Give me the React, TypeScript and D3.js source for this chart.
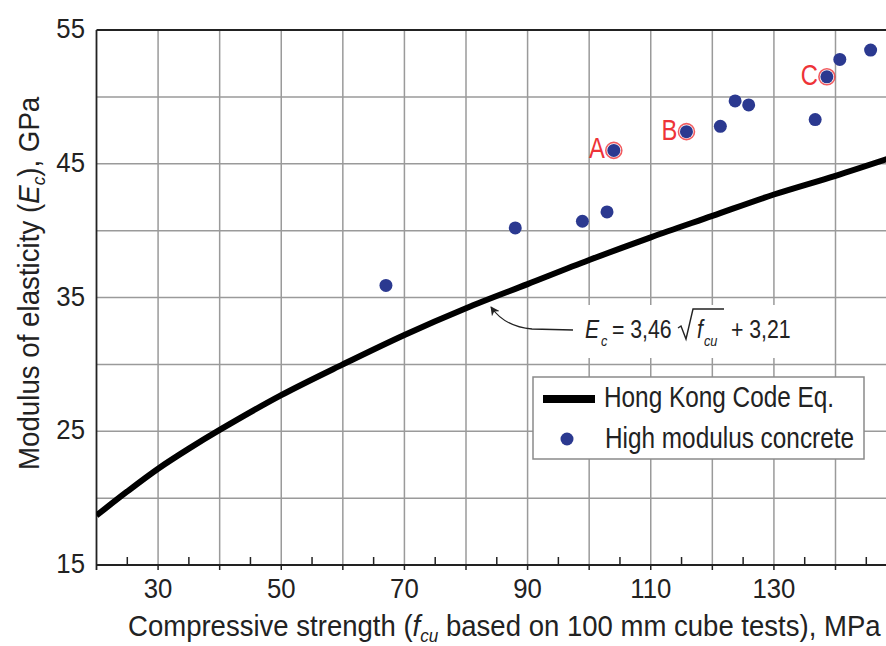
import React from "react";
import * as d3 from "d3";

// Hong Kong Code equation curve
const curveF = [20, 25, 30, 35, 40, 50, 60, 70, 80, 90, 100, 110, 120, 130, 140, 150];
const curveE = [18.7, 20.5, 22.2, 23.7, 25.1, 27.7, 30.0, 32.2, 34.2, 36.0, 37.8, 39.5, 41.1, 42.7, 44.1, 45.6];

// High modulus concrete points
const ptF = [67.0, 88.0, 98.9, 102.9, 104.0, 115.8, 121.3, 123.7, 125.9, 136.7, 138.6, 140.7, 145.7];
const ptE = [35.9, 40.2, 40.7, 41.4, 46.0, 47.4, 47.8, 49.7, 49.4, 48.3, 51.5, 52.8, 53.5];
const ptLabel = ["", "", "", "", "A", "B", "", "", "", "", "C", "", ""];

const xTickLabels = [30, 50, 70, 90, 110, 130];
const yTickLabels = [15, 25, 35, 45, 55];
const xGrid = [30, 40, 50, 60, 70, 80, 90, 100, 110, 120, 130, 140];
const xMinor = [25, 35, 45, 55, 65, 75, 85, 95, 105, 115, 125, 135, 145];
const yGrid = [20, 25, 30, 35, 40, 45, 50];

const FONT = "'Liberation Sans', Arial, sans-serif";

function ST(props: any) {
  const { x, y, s = 0.85, anchor = "start", size = 28, fill = "#222", italic = false, rotate = 0, children } = props;
  return (
    <text
      transform={`translate(${x},${y})${rotate ? ` rotate(${rotate})` : ""} scale(${s},1)`}
      textAnchor={anchor}
      fontSize={size}
      fill={fill}
      fontStyle={italic ? "italic" : "normal"}
    >
      {children}
    </text>
  );
}

export default function App() {
  const W = 886, H = 646;
  const L = 96.5, R = 886, T = 30, B = 565;
  const x = d3.scaleLinear().domain([20, 148.2]).range([L, R]);
  const y = d3.scaleLinear().domain([15, 55]).range([B, T]);
  const line = d3
    .line<number>()
    .x((_, i) => x(curveF[i]))
    .y((_, i) => y(curveE[i]))
    .curve(d3.curveCatmullRom);
  const blue = "#2b3990";
  const red = "#ee3338";
  const grid = "#9a9a9a";

  return (
    <svg
      width={W}
      height={H}
      style={{ position: "absolute", left: 0, top: 0, background: "#fff" }}
      fontFamily={FONT}
    >
      <defs>
        <clipPath id="plot">
          <rect x={L} y={T} width={R - L} height={B - T} />
        </clipPath>
        <marker id="arr" viewBox="0 0 10 10" refX="9" refY="5" markerWidth="7" markerHeight="7" orient="auto-start-reverse">
          <path d="M0,0 L10,5 L0,10 L3,5 z" fill="#222" />
        </marker>
      </defs>
      <rect x={0} y={0} width={W} height={H} fill="#fff" />
      {/* grid */}
      {xGrid.map((v) => (
        <line key={"gx" + v} x1={x(v)} x2={x(v)} y1={T} y2={B} stroke={grid} strokeWidth={1.5} />
      ))}
      {yGrid.map((v) => (
        <line key={"gy" + v} x1={L} x2={R} y1={y(v)} y2={y(v)} stroke={grid} strokeWidth={1.5} />
      ))}
      {/* axes */}
      <line x1={L} x2={R} y1={T} y2={T} stroke="#222" strokeWidth={1.8} />
      <line x1={L} x2={L} y1={T} y2={B + 5} stroke="#222" strokeWidth={1.8} />
      <line x1={L} x2={R} y1={B} y2={B} stroke="#222" strokeWidth={2} />
      {xGrid.map((v) => (
        <line key={"tk" + v} x1={x(v)} x2={x(v)} y1={B} y2={B + 5} stroke="#222" strokeWidth={1.5} />
      ))}
      {xMinor.map((v) => (
        <line key={"mk" + v} x1={x(v)} x2={x(v)} y1={B} y2={B - 8} stroke="#222" strokeWidth={1.5} />
      ))}
      {/* tick labels */}
      {xTickLabels.map((v) => (
        <ST key={"xl" + v} x={x(v)} y={598} anchor="middle" size={28} s={0.92}>
          {v}
        </ST>
      ))}
      {yTickLabels.map((v) => (
        <ST key={"yl" + v} x={85} y={y(v) + 8} anchor="end" size={28} s={0.92}>
          {v}
        </ST>
      ))}
      {/* axis titles */}
      <ST x={128} y={636} size={29} s={0.95}>
        Compressive strength (<tspan fontStyle="italic">f</tspan>
        <tspan fontStyle="italic" fontSize={18} dy={6}>cu</tspan>
        <tspan dy={-6}> based on 100 mm cube tests), MPa</tspan>
      </ST>
      <ST x={39} y={470} rotate={-90} size={29} s={0.955}>
        Modulus of elasticity (<tspan fontStyle="italic">E</tspan>
        <tspan fontStyle="italic" fontSize={18} dy={6}>c</tspan>
        <tspan dy={-6}>), GPa</tspan>
      </ST>
      {/* curve */}
      <path d={line(curveF) || ""} fill="none" stroke="#000" strokeWidth={6} clipPath="url(#plot)" />
      {/* annotation */}
      <rect x={575} y={305} width={228} height={53} fill="#fff" />
      <path d="M573,330 L532,329 Q505,327 491,307" fill="none" stroke="#222" strokeWidth={1.3} markerEnd="url(#arr)" />
      <g fill="#222">
        <ST x={585} y={338} size={25} s={0.85} italic>E</ST>
        <ST x={601} y={346} size={15} s={0.85} italic>c</ST>
        <ST x={612} y={338} size={25} s={0.85}>= 3,46</ST>
        <path d="M678,328 L681,326 L686,339 L693,309 L724,309" fill="none" stroke="#222" strokeWidth={1.4} />
        <ST x={697} y={338} size={25} s={0.85} italic>f</ST>
        <ST x={704} y={346} size={15} s={0.85} italic>cu</ST>
        <ST x={731} y={338} size={25} s={0.85}>+ 3,21</ST>
      </g>
      {/* points */}
      {ptF.map((f, i) => (
        <g key={"p" + i}>
          {ptLabel[i] && (
            <circle cx={x(f)} cy={y(ptE[i])} r={8} fill="none" stroke={red} strokeWidth={1.6} opacity={0.8} />
          )}
          <circle cx={x(f)} cy={y(ptE[i])} r={6.5} fill={blue} />
          {ptLabel[i] && (
            <ST x={x(f) - 9} y={y(ptE[i]) + 8} anchor="end" size={29} s={0.82} fill={red}>
              {ptLabel[i]}
            </ST>
          )}
        </g>
      ))}
      {/* legend */}
      <rect x={533} y={377} width={331} height={82} fill="#fff" stroke="#8a8a8a" strokeWidth={1.5} />
      <line x1={543} x2={595} y1={399} y2={399} stroke="#000" strokeWidth={8} />
      <ST x={604} y={407} size={29} s={0.84}>Hong Kong Code Eq.</ST>
      <circle cx={567} cy={439} r={6.5} fill={blue} />
      <ST x={605} y={448} size={29} s={0.84}>High modulus concrete</ST>
    </svg>
  );
}
